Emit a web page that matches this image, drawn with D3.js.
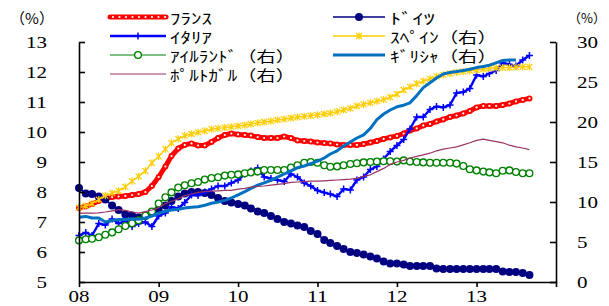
<!DOCTYPE html>
<html>
<head>
<meta charset="utf-8">
<script src="https://cdn.jsdelivr.net/npm/d3@7"></script>
<style>
  body { margin: 0; background: #fff; }
  svg { display: block; }
</style>
</head>
<body>
<svg id="chart" width="609" height="306"></svg>
<script>
// chart data (monthly, Jan 2008 -> Sep 2013)
const yearLabels = ["08", "09", "10", "11", "12", "13"];
const leftTicks = [5, 6, 7, 8, 9, 10, 11, 12, 13];
const rightTicks = [0, 5, 10, 15, 20, 25, 30];

// left axis
const france = [7.47,7.52,7.6,7.7,7.78,7.83,7.85,7.87,7.9,7.93,8.0,8.2,
  8.5,8.85,9.2,9.45,9.57,9.62,9.55,9.55,9.67,9.8,9.9,9.95,
  9.92,9.9,9.88,9.83,9.8,9.8,9.8,9.85,9.8,9.72,9.7,9.68,
  9.65,9.63,9.62,9.58,9.57,9.57,9.57,9.6,9.65,9.7,9.77,9.82,
  9.87,9.95,10.05,10.12,10.22,10.27,10.35,10.42,10.5,10.55,10.62,10.7,
  10.82,10.87,10.87,10.87,10.9,10.95,11.02,11.07,11.12];
const germany = [8.13,7.95,7.93,7.85,7.75,7.55,7.4,7.25,7.22,7.15,7.2,7.3,
  7.4,7.55,7.7,7.85,7.95,8.0,8.0,7.97,7.9,7.8,7.7,7.65,
  7.6,7.55,7.45,7.35,7.3,7.2,7.1,7.0,6.95,6.88,6.83,6.7,
  6.6,6.4,6.3,6.2,6.1,6.0,5.97,5.92,5.85,5.78,5.68,5.62,
  5.62,5.58,5.53,5.53,5.53,5.53,5.45,5.43,5.43,5.43,5.43,5.43,
  5.43,5.43,5.43,5.43,5.35,5.33,5.33,5.3,5.23];
const italy = [6.55,6.65,6.55,6.95,6.9,7.1,6.95,7.05,6.85,6.95,7.0,6.85,
  7.2,7.3,7.5,7.45,7.65,7.9,7.88,8.0,8.1,8.2,8.2,8.3,
  8.4,8.6,8.7,8.8,8.5,8.45,8.4,8.35,8.6,8.5,8.3,8.2,
  8.05,7.98,7.93,7.85,8.1,8.07,8.4,8.5,8.75,8.85,9.1,9.35,
  9.55,9.75,10.1,10.5,10.5,10.75,10.85,10.82,10.9,11.3,11.33,11.45,
  11.9,11.85,11.95,12.05,12.3,12.25,12.2,12.4,12.55];

// right axis
const spain = [9.3,9.5,9.8,10.3,10.8,11.1,11.4,11.9,12.6,13.2,13.9,14.9,
  15.7,16.6,17.4,17.9,18.3,18.5,18.7,18.9,19.1,19.2,19.3,19.4,
  19.5,19.6,19.75,19.9,20.0,20.1,20.25,20.35,20.5,20.6,20.7,20.8,
  20.9,21.0,21.1,21.3,21.5,21.7,22.0,22.2,22.4,22.6,22.8,23.1,
  23.5,24.0,24.4,24.8,25.1,25.4,25.7,25.9,26.05,26.2,26.3,26.4,
  26.5,26.6,26.7,26.75,26.8,26.8,26.85,26.9,26.9];
const ireland = [5.2,5.35,5.4,5.6,5.9,6.2,6.6,7.0,7.35,7.7,8.3,8.8,
  9.8,10.6,11.2,11.8,12.1,12.35,12.5,12.8,13.0,13.1,13.3,13.4,
  13.45,13.6,13.7,13.8,14.0,14.0,14.0,14.0,14.3,14.6,14.9,15.0,
  14.9,14.6,14.4,14.45,14.6,14.75,14.85,14.95,15.0,15.05,15.1,15.1,
  15.05,15.2,15.05,15.0,14.95,14.9,14.9,14.9,14.9,14.8,14.5,14.1,
  13.95,13.8,13.7,13.6,13.9,13.95,13.75,13.6,13.6];
const greece = [8.1,8.2,8.0,8.0,7.5,7.7,7.8,7.8,7.9,7.85,8.0,8.25,
  8.6,8.85,9.0,9.1,9.25,9.35,9.4,9.6,9.85,10.0,10.2,10.5,
  10.9,11.3,11.7,12.1,12.4,12.7,13.1,13.5,13.9,14.3,14.5,14.8,
  15.1,15.5,16.0,16.4,17.0,17.5,18.0,18.4,19.2,20.3,21.0,21.5,
  21.9,22.1,22.4,23.3,24.3,24.9,25.5,26.0,26.2,26.3,26.45,26.6,
  26.8,26.95,27.1,27.4,27.7,27.75,27.75];
const portugal = [8.6,8.6,8.6,8.65,8.75,8.9,9.05,8.95,8.75,8.6,8.8,9.0,
  9.3,9.8,10.1,10.4,10.8,11.0,11.2,11.3,11.35,11.4,11.45,11.45,
  11.6,11.7,11.85,11.95,12.0,12.1,12.2,12.3,12.45,12.5,12.55,12.6,
  12.6,12.65,12.7,12.75,12.8,12.85,12.95,13.2,13.4,13.8,14.2,14.7,
  15.0,15.2,15.5,15.7,15.9,16.1,16.4,16.6,16.75,16.9,17.15,17.4,
  17.7,17.85,17.7,17.55,17.4,17.1,16.9,16.75,16.55];

// layout
const svg = d3.select("#chart");
const plotLeft = 79, plotRight = 556, plotTop = 42, plotBottom = 282;
const numFont = "'Liberation Serif', 'DejaVu Serif', serif";
const jpFont = "'Noto Sans CJK JP', 'Noto Sans', sans-serif";

const x = d3.scaleTime()
  .domain([new Date(2008, 0, 1), new Date(2014, 0, 1)])
  .range([plotLeft, plotRight]);
const yL = d3.scaleLinear().domain([5, 13]).range([plotBottom, plotTop]);
const yR = d3.scaleLinear().domain([0, 30]).range([plotBottom, plotTop]);

const monthOf = (i) => d3.timeMonth.offset(new Date(2008, 0, 1), i);

// marker shapes
const markers = {
  dot: (g, color) => g.append("circle").attr("r", 4).attr("fill", color),
  plus: (g, color) => g.append("path").attr("d", "M-3.5,0H3.5M0,-3.5V3.5")
    .attr("stroke", color).attr("stroke-width", 1.5).attr("fill", "none"),
  star: (g, color) => g.append("path").attr("d", "M-3,-3L3,3M-3,3L3,-3M0,-3.6V3.6")
    .attr("stroke", color).attr("stroke-width", 1.2).attr("fill", "none"),
  ring: (g, color) => g.append("circle").attr("r", 3.4).attr("fill", "#fff")
    .attr("stroke", color).attr("stroke-width", 1.3),
  pearl: (g, color) => {
    g.append("circle").attr("r", 3).attr("fill", color);
    g.append("circle").attr("r", 1.1).attr("fill", "#fff");
  }
};

const series = [
  { name: "ﾌﾗﾝｽ", data: france, y: yL, color: "#ff0000", width: 5, marker: "pearl" },
  { name: "ﾄﾞｲﾂ", data: germany, y: yL, color: "#000080", width: 1.5, marker: "dot" },
  { name: "ｲﾀﾘｱ", data: italy, y: yL, color: "#0000ff", width: 2.4, marker: "plus" },
  { name: "ｽﾍﾟｲﾝ（右）", data: spain, y: yR, color: "#ffcc00", width: 1.4, marker: "star" },
  { name: "ｱｲﾙﾗﾝﾄﾞ（右）", data: ireland, y: yR, color: "#008000", width: 1.2, marker: "ring" },
  { name: "ｷﾞﾘｼｬ（右）", data: greece, y: yR, color: "#0070c0", width: 3, marker: null },
  { name: "ﾎﾟﾙﾄｶﾞﾙ（右）", data: portugal, y: yR, color: "#993366", width: 1.2, marker: null }
];

// lines and markers
series.forEach((s) => {
  const line = d3.line()
    .x((d, i) => x(monthOf(i)))
    .y((d) => s.y(d));
  const g = svg.append("g");
  g.append("path")
    .datum(s.data)
    .attr("d", line)
    .attr("fill", "none")
    .attr("stroke", s.color)
    .attr("stroke-width", s.width)
    .attr("stroke-linejoin", "round");
  if (s.marker) {
    s.data.forEach((d, i) => {
      const m = g.append("g").attr("transform", `translate(${x(monthOf(i))},${s.y(d)})`);
      markers[s.marker](m, s.color);
    });
  }
});

// axes
const axisL = d3.axisRight(yL).tickValues(leftTicks).tickSizeInner(6).tickSizeOuter(0).tickFormat("");
const axisR = d3.axisLeft(yR).tickValues(rightTicks).tickSizeInner(6).tickSizeOuter(0).tickFormat("");
const axisB = d3.axisBottom(x)
  .tickValues(d3.range(2008, 2015).map((yr) => new Date(yr, 0, 1)))
  .tickSizeInner(5).tickSizeOuter(0).tickFormat("");

svg.append("g").attr("transform", `translate(${plotLeft},0)`).call(axisL);
svg.append("g").attr("transform", `translate(${plotRight},0)`).call(axisR);
svg.append("g").attr("transform", `translate(0,${plotBottom})`).call(axisB);
svg.selectAll(".domain").attr("stroke", "#000").attr("stroke-width", 1.6);
svg.selectAll(".tick line").attr("stroke", "#000").attr("stroke-width", 1.6);

// tick labels (serif digits, a little stretched like the original)
const numLabel = (sel, anchor) => sel
  .attr("text-anchor", anchor).attr("dominant-baseline", "central")
  .attr("font-family", numFont).attr("font-size", 16)
  .attr("textLength", (d) => String(d).length * 10.5)
  .attr("lengthAdjust", "spacingAndGlyphs")
  .text((d) => d);

svg.append("g").selectAll("text")
  .data(leftTicks).join("text")
  .attr("x", (d) => 47 - String(d).length * 10.5).attr("y", (d) => yL(d))
  .call(numLabel, "start");

svg.append("g").selectAll("text")
  .data(rightTicks).join("text")
  .attr("x", 577).attr("y", (d) => yR(d))
  .call(numLabel, "start");

svg.append("g").selectAll("text")
  .data(yearLabels).join("text")
  .attr("x", (d, i) => x(new Date(2008 + i, 0, 1)) - 10.5).attr("y", 296)
  .call(numLabel, "start");

// unit labels
svg.append("text").attr("x", 32).attr("y", 17)
  .attr("text-anchor", "middle").attr("dominant-baseline", "central")
  .attr("font-family", jpFont).attr("font-size", 15).text("（%）");
svg.append("text").attr("x", 587).attr("y", 17)
  .attr("text-anchor", "middle").attr("dominant-baseline", "central")
  .attr("font-family", jpFont).attr("font-size", 13).text("（%）");

// legend
const legendSpots = [
  { x0: 110, x1: 166, tx: 170, y: 17, w: 42 },   // France
  { x0: 333, x1: 385, tx: 390, y: 17, w: 45 },   // Germany
  { x0: 110, x1: 166, tx: 170, y: 36, w: 42 },   // Italy
  { x0: 333, x1: 385, tx: 390, y: 36, w: 107 },  // Spain
  { x0: 110, x1: 166, tx: 170, y: 55, w: 125 },  // Ireland
  { x0: 333, x1: 385, tx: 390, y: 55, w: 107 },  // Greece
  { x0: 110, x1: 166, tx: 170, y: 74, w: 125 }   // Portugal
];

series.forEach((s, i) => {
  const p = legendSpots[i];
  const g = svg.append("g");
  g.append("line")
    .attr("x1", p.x0).attr("x2", p.x1).attr("y1", p.y).attr("y2", p.y)
    .attr("stroke", s.color).attr("stroke-width", s.width)
    .attr("stroke-linecap", s.marker === "pearl" ? "round" : "butt");
  if (s.marker === "pearl") {
    d3.range(p.x0 + 3, p.x1, 6.5).forEach((px) => {
      g.append("circle").attr("cx", px).attr("cy", p.y).attr("r", 1.1).attr("fill", "#fff");
    });
  } else if (s.marker) {
    const m = g.append("g").attr("transform", `translate(${(p.x0 + p.x1) / 2},${p.y})`);
    markers[s.marker](m, s.color);
  }
  g.append("text")
    .attr("x", p.tx).attr("y", p.y)
    .attr("dominant-baseline", "central")
    .attr("font-family", jpFont).attr("font-size", 15)
    .attr("textLength", p.w).attr("lengthAdjust", "spacingAndGlyphs")
    .text(s.name);
});
</script>
</body>
</html>
